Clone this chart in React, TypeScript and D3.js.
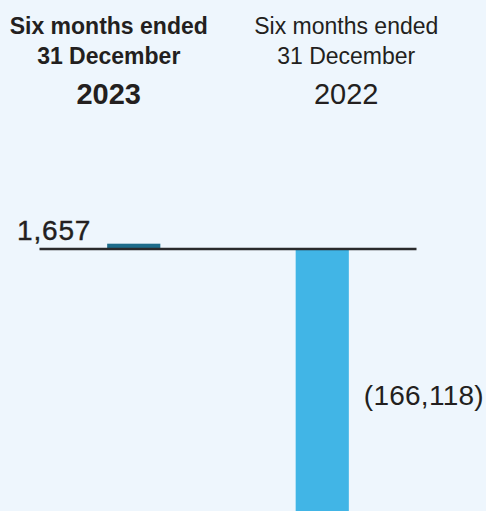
import React from "react";
import * as d3 from "d3";

const categories = ["2023", "2022"];
const values = [1657, -166118];
const valueLabels = ["1,657", "(166,118)"];
const headerLine1 = ["Six months ended", "Six months ended"];
const headerLine2 = ["31 December", "31 December"];
const headerBold = [true, false];
const barColors = ["#1D6C8B", "#41B5E6"];

const W = 486;
const H = 511;

export default function App() {
  const x = d3
    .scaleBand<string>()
    .domain(categories)
    .range([39.5, 416.5])
    .paddingInner(0.718)
    .paddingOuter(0.359);

  const k = 5.3 / 1657;
  const baseY = 249;
  const y = d3
    .scaleLinear()
    .domain([d3.min(values)!, d3.max(values)!])
    .range([baseY - d3.min(values)! * k, baseY - d3.max(values)! * k]);

  const headerOffsets = [-25, 24];
  const font = "'Liberation Sans', Arial, Helvetica, sans-serif";
  const textColor = "#231F20";

  return (
    <svg
      width={W}
      height={H}
      style={{ position: "absolute", left: 0, top: 0, display: "block" }}
      fontFamily={font}
    >
      <rect x={0} y={0} width={W} height={H} fill="#EEF6FD" />
      {categories.map((c, i) => {
        const cx = x(c)! + x.bandwidth() / 2 + headerOffsets[i];
        const fw = headerBold[i] ? 700 : 400;
        return (
          <g key={"h" + c} fill={textColor} textAnchor="middle" fontWeight={fw}>
            <text x={cx} y={34} fontSize={23}>
              {headerLine1[i]}
            </text>
            <text x={cx} y={64} fontSize={23}>
              {headerLine2[i]}
            </text>
            <text x={cx} y={104} fontSize={29}>
              {c}
            </text>
          </g>
        );
      })}
      {categories.map((c, i) => {
        const v = values[i];
        const y0 = y(0);
        const y1 = y(v);
        return (
          <rect
            key={"b" + c}
            x={x(c)!}
            y={Math.min(y0, y1)}
            width={x.bandwidth()}
            height={Math.abs(y1 - y0)}
            fill={barColors[i]}
          />
        );
      })}
      <line
        x1={x.range()[0]}
        x2={x.range()[1]}
        y1={y(0)}
        y2={y(0)}
        stroke="#2A2A2C"
        strokeWidth={2.5}
      />
      {categories.map((c, i) => {
        const v = values[i];
        if (v >= 0) {
          return (
            <text
              key={"l" + c}
              x={x(c)! - 16}
              y={y(v) - 4}
              fontSize={28}
              letterSpacing={0.8}
              textAnchor="end"
              fill={textColor}
              stroke={textColor}
              strokeWidth={0.4}
            >
              {valueLabels[i]}
            </text>
          );
        }
        return (
          <text
            key={"l" + c}
            x={x(c)! + x.bandwidth() + 15}
            y={405}
            fontSize={28}
            letterSpacing={0.25}
            textAnchor="start"
            fill={textColor}
          >
            {valueLabels[i]}
          </text>
        );
      })}
    </svg>
  );
}
